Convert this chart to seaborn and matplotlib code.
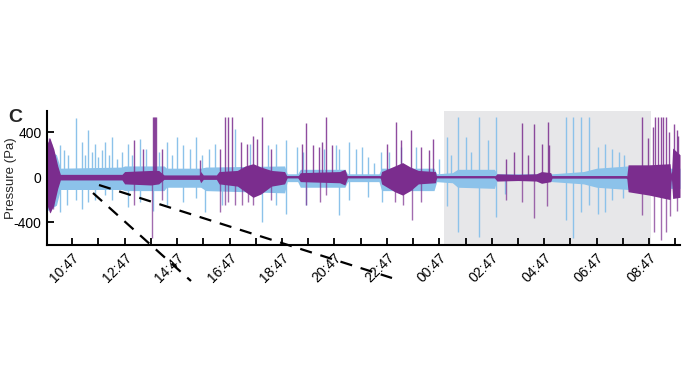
import matplotlib
matplotlib.use("Agg")
import matplotlib.pyplot as plt
from matplotlib.lines import Line2D
import numpy as np
import pandas as pd
import seaborn as sns

# time axis: hours after 10:47
tick_labels = ["10:47", "12:47", "14:47", "16:47", "18:47", "20:47", "22:47",
               "00:47", "02:47", "04:47", "06:47", "08:47"]

# envelope of the dense signal (t, upper, lower)
blue_env_t = [-0.96, -0.6, -0.45, 1.9, 2.0, 3.5, 3.6, 4.9, 5.1, 8.1, 8.2, 8.6, 8.7, 10.4, 10.5,
              11.7, 11.8, 13.8, 13.9, 14.5, 14.7, 16.1, 16.2, 18.2, 18.3, 19.5, 20.0, 21.2, 21.3, 23.18]
blue_env_up = [250, 200, 80, 90, 100, 100, 80, 80, 90, 100, 30, 30, 70, 70, 30,
               30, 80, 80, 30, 40, 70, 70, 30, 30, 30, 50, 80, 100, 80, 80]
blue_env_dn = [-300, -250, -110, -110, -120, -120, -90, -90, -120, -140, -40, -40, -90, -90, -40,
               -40, -120, -120, -40, -50, -90, -100, -30, -30, -40, -60, -90, -110, -100, -100]

purple_env_t = [-0.96, -0.85, -0.7, -0.55, -0.45, 1.9, 2.0, 3.0, 3.3, 3.5, 4.85, 4.9, 5.0, 5.5,
                5.6, 6.3, 6.6, 6.9, 7.2, 7.6, 8.1, 8.2, 8.6, 8.7, 10.2, 10.4, 10.5, 11.75, 11.8,
                12.3, 12.6, 12.9, 13.2, 13.85, 13.9, 16.1, 16.2, 17.0, 17.7, 17.9, 18.25, 18.3,
                21.15, 21.2, 22.0, 22.8, 22.85, 22.9, 23.18]
purple_env_up = [300, 350, 250, 100, 25, 25, 50, 60, 60, 20, 20, 50, 20, 20,
                 50, 60, 100, 120, 90, 60, 50, 5, 5, 40, 50, 70, 5, 5, 50,
                 100, 130, 90, 60, 50, 5, 5, 30, 25, 30, 50, 40, 8,
                 8, 110, 110, 120, 0, 260, 200]
purple_env_dn = [-250, -320, -250, -100, -25, -25, -60, -70, -60, -20, -20, -50, -20, -20,
                 -60, -80, -130, -180, -150, -80, -60, -5, -5, -40, -50, -70, -5, -5, -60,
                 -130, -160, -120, -60, -50, -5, -5, -35, -30, -35, -55, -40, -8,
                 -8, -130, -160, -200, 0, -190, -180]

# isolated spikes (t, peak)
blue_up_t = [-0.47, -0.30, -0.15, 0.14, 0.37, 0.50, 0.60, 0.75, 0.86, 1.00, 1.13, 1.24, 1.40, 1.51,
             1.70, 1.90, 2.12, 2.30, 2.57, 2.80, 3.30, 3.60, 3.80, 3.98, 4.21, 4.50, 4.74, 4.95,
             5.20, 5.45, 6.22, 6.80, 7.45, 7.78, 8.16, 8.58, 8.80, 9.60, 10.06, 10.18, 10.56,
             10.83, 11.05, 11.30, 11.51, 11.78, 12.08, 12.53, 13.10, 13.98, 14.29, 14.45, 14.70,
             15.00, 15.20, 15.50, 15.85, 16.15, 18.85, 19.11, 19.42, 19.72, 20.06, 20.33, 20.60,
             20.85, 21.05]
blue_up_v = [285, 240, 200, 528, 314, 200, 418, 220, 300, 180, 240, 314, 200, 356,
             166, 220, 300, 200, 344, 250, 220, 314, 200, 360, 285, 255, 359, 200,
             250, 300, 433, 300, 285, 300, 330, 270, 220, 250, 285, 255, 314,
             255, 270, 180, 122, 225, 225, 270, 270, 166, 359, 200, 537,
             359, 220, 537, 330, 537, 537, 537, 537, 537, 270, 300, 250,
             220, 200]
blue_dn_t = [-0.47, -0.2, 0.14, 0.37, 0.60, 0.86, 1.24, 1.51, 2.12, 2.57, 3.07, 3.60, 4.21, 4.74,
             5.05, 5.7, 7.25, 7.78, 8.16, 8.9, 10.18, 10.56, 11.3, 11.8, 14.29, 14.70, 15.50,
             16.15, 16.5, 18.85, 19.11, 19.42, 19.72, 20.06, 20.33, 20.6, 21.0]
blue_dn_v = [-311, -250, -200, -280, -220, -200, -160, -200, -270, -220, -300, -250, -220, -190,
             -311, -250, -400, -249, -330, -250, -338, -200, -180, -220, -255, -490, -531,
             -356, -150, -383, -546, -309, -249, -330, -309, -200, -190]

purple_up_t = [-0.9, -0.8, 2.35, 2.7, 3.07, 3.12, 3.17, 3.2, 3.41, 4.89, 5.62, 5.84, 5.96, 6.11,
               6.45, 6.65, 6.90, 7.05, 7.25, 7.6, 8.77, 8.92, 9.2, 9.4, 9.52, 9.68, 9.9, 12.00,
               12.35, 12.55, 12.92, 13.3, 13.6, 13.75, 16.53, 16.85, 17.14, 17.4, 17.63, 17.9,
               18.13, 18.2, 21.74, 21.95, 22.15, 22.23, 22.35, 22.46, 22.55, 22.65, 22.75, 22.95,
               23.05, 23.12]
purple_up_v = [350, 300, 330, 250, 537, 537, 537, 537, 255, 150, 250, 537, 537, 537,
               314, 300, 370, 344, 537, 250, 300, 480, 285, 270, 314, 537, 285, 300,
               490, 330, 425, 270, 240, 344, 166, 225, 480, 200, 470, 300,
               490, 285, 537, 350, 450, 537, 537, 537, 537, 537, 400, 470,
               420, 370]
purple_dn_t = [-0.85, -0.75, 2.35, 3.05, 3.41, 5.62, 5.84, 5.96, 6.22, 6.49, 6.72, 6.91, 7.6, 8.92,
               9.46, 9.68, 12.3, 12.6, 12.95, 13.3, 16.53, 17.14, 17.63, 18.1, 21.74, 22.2, 22.46,
               22.65, 22.8, 23.05]
purple_dn_v = [-311, -280, -250, -545, -200, -309, -250, -220, -249, -249, -220, -249, -200, -249,
               -220, -160, -220, -249, -383, -220, -200, -220, -360, -260, -338, -487, -561,
               -487, -350, -300]

shade_start, shade_end = 14.17, 22.08

blue = "#8cc2ea"
purple = "#7b2d8e"

sns.set_style("ticks")
plt.rcParams["font.family"] = ["Liberation Sans", "DejaVu Sans"]
plt.rcParams["axes.unicode_minus"] = False

fig = plt.figure(figsize=(6.89, 3.88), dpi=100)
ax = fig.add_axes([47 / 689, 1 - 245 / 388, 633 / 689, 134 / 388])

ax.axvspan(shade_start, shade_end, color="#e7e7e9", lw=0, zorder=0)

blue_env = pd.DataFrame({"t": blue_env_t, "up": blue_env_up, "dn": blue_env_dn})
purple_env = pd.DataFrame({"t": purple_env_t, "up": purple_env_up, "dn": purple_env_dn})
purple_env["mid"] = (purple_env["up"] + purple_env["dn"]) / 2

ax.fill_between(blue_env["t"], blue_env["dn"], blue_env["up"], color=blue, lw=0, zorder=1)
ax.vlines(blue_up_t, 0, blue_up_v, color=blue, lw=1.0, zorder=1)
ax.vlines(blue_dn_t, 0, blue_dn_v, color=blue, lw=1.0, zorder=1)

ax.fill_between(purple_env["t"], purple_env["dn"], purple_env["up"], color=purple, lw=0, zorder=2)
sns.lineplot(data=purple_env, x="t", y="mid", color=purple, lw=1.6, ax=ax, zorder=2)
ax.vlines(purple_up_t, 0, purple_up_v, color=purple, lw=1.0, alpha=0.85, zorder=3)
ax.vlines(purple_dn_t, 0, purple_dn_v, color=purple, lw=1.0, alpha=0.7, zorder=3)

ax.set_xlim(-0.96, 23.18)
ax.set_ylim(-605, 590)
ax.set_xticks(np.arange(0, 24, 1))
ax.set_xticklabels([tick_labels[i // 2] if i % 2 == 0 else "" for i in range(24)],
                   rotation=45, ha="right", rotation_mode="anchor", fontsize=10)
ax.set_yticks([-400, 0, 400])
ax.set_yticklabels(["-400", "0", "400"], fontsize=10)
ax.tick_params(direction="in", length=5, width=1.3, colors="black", pad=4)
ax.set_xlabel("")
ax.set_ylabel("Pressure (Pa)", fontsize=9.5)
ax.yaxis.set_label_coords(-30 / 633, 0.5)
sns.despine(ax=ax)
for s in ("left", "bottom"):
    ax.spines[s].set_linewidth(1.5)
    ax.spines[s].set_color("black")

fig.text(15 / 689, 1 - 117 / 388, "C", fontsize=14, fontweight="bold", ha="center", va="center")

# dashed zoom guides
for (x0, y0, x1, y1) in [(93, 193, 191, 281), (99, 185, 392, 278)]:
    fig.add_artist(Line2D([x0 / 689, x1 / 689], [1 - y0 / 388, 1 - y1 / 388],
                          transform=fig.transFigure, color="black", lw=1.6,
                          dashes=(5.5, 4), zorder=10))

fig.savefig("out.png", dpi=100)
